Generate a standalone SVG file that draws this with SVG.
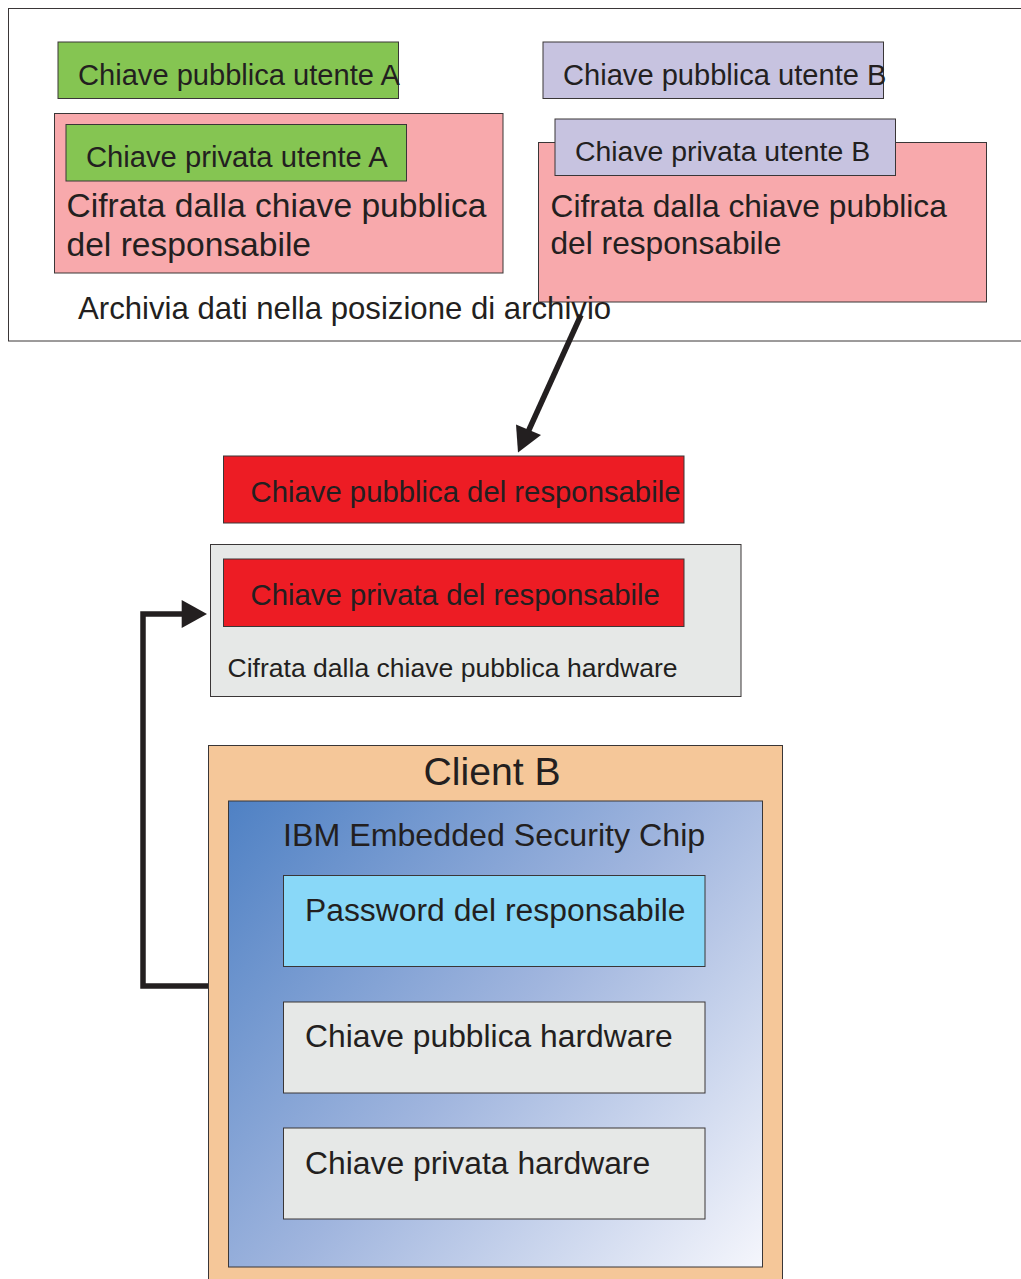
<svg xmlns="http://www.w3.org/2000/svg" width="1021" height="1279" viewBox="0 0 1021 1279">
<style>
text{font-family:"Liberation Sans",Arial,sans-serif;fill:#231f20}
rect{stroke:#3a3637;stroke-width:1}
.g{fill:#85c552}.p{fill:#f8a9ac}.l{fill:#c7c3e0}.r{fill:#ed1c24}.y{fill:#e6e8e7}
.c{fill:none;stroke:#231f20;stroke-width:5.5}
.h{fill:#231f20;stroke:none}
</style>
<defs>
<linearGradient id="chipFill" gradientUnits="userSpaceOnUse" x1="229" y1="801" x2="762" y2="1267">
<stop offset="0" stop-color="#4f81c4"/>
<stop offset="0.5" stop-color="#a0b5de"/>
<stop offset="1" stop-color="#f5f6fc"/>
</linearGradient>
</defs>
<rect width="1021" height="1279" fill="#fff" style="stroke:none"/>
<g id="archive">
<rect x="8.5" y="8.5" width="1030" height="332.5" fill="#fff"/>
</g>
<g id="public-a">
<rect class="g" x="58" y="42" width="340.5" height="56.5"/>
<text x="78" y="85" font-size="29.1">Chiave pubblica utente A</text>
</g>
<g id="cipher-a">
<rect class="p" x="54.5" y="113.5" width="448.5" height="159.5"/>
<text x="66.5" y="217" font-size="33.6">Cifrata dalla chiave pubblica</text>
<text x="66.5" y="256" font-size="33.6">del responsabile</text>
</g>
<g id="private-a">
<rect class="g" x="66" y="124.5" width="340.5" height="56.5"/>
<text x="86" y="167" font-size="29.2">Chiave privata utente A</text>
</g>
<g id="public-b">
<rect class="l" x="543" y="42" width="340.5" height="56.5"/>
<text x="563" y="85" font-size="29.1">Chiave pubblica utente B</text>
</g>
<g id="cipher-b">
<rect class="p" x="538.5" y="142.5" width="448" height="159.5"/>
<text x="550.5" y="217" font-size="31.7">Cifrata dalla chiave pubblica</text>
<text x="550.5" y="254" font-size="31.7">del responsabile</text>
</g>
<g id="private-b">
<rect class="l" x="555" y="119" width="340.5" height="56.5"/>
<text x="575" y="161" font-size="28.4">Chiave privata utente B</text>
</g>
<g id="archive-label">
<text x="78" y="319" font-size="31.15">Archivia dati nella posizione di archivio</text>
</g>
<g id="admin-public">
<rect class="r" x="223.5" y="456" width="460.5" height="67"/>
<text x="250.5" y="502" font-size="29.3">Chiave pubblica del responsabile</text>
</g>
<g id="admin-private">
<rect class="y" x="210.5" y="544.5" width="530.5" height="152"/>
<rect class="r" x="223.5" y="559" width="460.5" height="67.5"/>
<text x="250.5" y="605" font-size="29.35">Chiave privata del responsabile</text>
<text x="227.5" y="677" font-size="26.55">Cifrata dalla chiave pubblica hardware</text>
</g>
<g id="client-b">
<rect x="208.5" y="745.5" width="574" height="560" fill="#f5c799"/>
<text x="423.5" y="785" font-size="39.2">Client B</text>
</g>
<g id="security-chip">
<rect x="228.5" y="801" width="534" height="466" fill="url(#chipFill)"/>
<text x="283" y="846" font-size="32.2">IBM Embedded Security Chip</text>
</g>
<g id="admin-password">
<rect x="283.5" y="875.5" width="421.5" height="91" fill="#89d8f8"/>
<text x="305" y="921" font-size="31.85">Password del responsabile</text>
</g>
<g id="hw-public">
<rect class="y" x="283.5" y="1002" width="421.5" height="91"/>
<text x="305" y="1047" font-size="31.8">Chiave pubblica hardware</text>
</g>
<g id="hw-private">
<rect class="y" x="283.5" y="1128" width="421.5" height="91"/>
<text x="305" y="1173.5" font-size="31.85">Chiave privata hardware</text>
</g>
<g id="connectors">
<path class="c" d="M581 315L528 432"/>
<polygon class="h" points="518,452.5 516,424.5 541,435"/>
<path class="c" d="M208 986H143V614H183"/>
<polygon class="h" points="207,614 181.7,600 181.7,628"/>
</g>
</svg>
